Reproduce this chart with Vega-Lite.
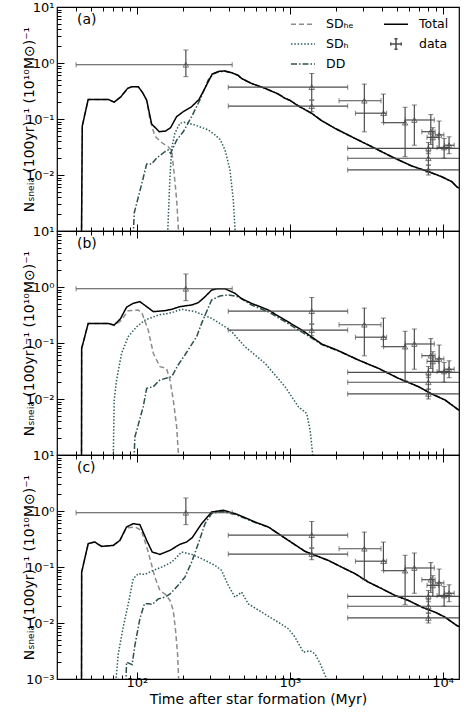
{
  "$schema": "https://vega.github.io/schema/vega-lite/v6.json",
  "background": "white",
  "padding": {"left": 21, "top": 0, "right": 0, "bottom": 0},
  "spacing": 0,
  "bounds": "flush",
  "config": {
    "font": "DejaVu Sans",
    "view": {"stroke": "black", "strokeWidth": 1.2},
    "axis": {"grid": false, "domain": false, "tickColor": "black", "tickWidth": 1, "labelFont": "DejaVu Sans", "labelFontSize": 13, "labelColor": "black", "titleFont": "DejaVu Sans", "titleFontSize": 14, "titleFontWeight": "normal", "titleColor": "black", "labelFlush": false, "labelOverlap": false, "labelPadding": 10, "titlePadding": -11},
    "axisBottom": {"titlePadding": 3, "labelPadding": 4},
    "legend": {"orient": "top-right", "offset": 10, "padding": 0, "columns": 2, "symbolType": "stroke", "symbolSize": 144, "symbolStrokeWidth": 1.5, "labelFontSize": 12.5, "labelFont": "DejaVu Sans", "labelColor": "black", "labelOffset": 16, "columnPadding": 27, "rowPadding": 4}
  },
  "datasets": {
    "obs": [
      {"t": 209, "tlo": 40, "thi": 420, "n": 0.93, "nlo": 0.57, "nhi": 1.71},
      {"t": 1392, "tlo": 396, "thi": 2393, "n": 0.37, "nlo": 0.22, "nhi": 0.65},
      {"t": 1392, "tlo": 396, "thi": 2393, "n": 0.17, "nlo": 0.135, "nhi": 0.215},
      {"t": 3076, "tlo": 2100, "thi": 3953, "n": 0.212, "nlo": 0.059, "nhi": 0.42},
      {"t": 4100, "tlo": 2690, "thi": 4300, "n": 0.127, "nlo": 0.086, "nhi": 0.279},
      {"t": 5683, "tlo": 4110, "thi": 5683, "n": 0.086, "nlo": 0.0212, "nhi": 0.162},
      {"t": 6532, "tlo": 5683, "thi": 8830, "n": 0.096, "nlo": 0.034, "nhi": 0.178},
      {"t": 8370, "tlo": 7310, "thi": 8930, "n": 0.0594, "nlo": 0.035, "nhi": 0.12},
      {"t": 8630, "tlo": 7900, "thi": 9400, "n": 0.047, "nlo": 0.03, "nhi": 0.07},
      {"t": 9490, "tlo": 8930, "thi": 10200, "n": 0.052, "nlo": 0.031, "nhi": 0.092},
      {"t": 10230, "tlo": 9200, "thi": 11000, "n": 0.031, "nlo": 0.02, "nhi": 0.045},
      {"t": 11020, "tlo": 10300, "thi": 11900, "n": 0.034, "nlo": 0.024, "nhi": 0.048},
      {"t": 8070, "tlo": 2393, "thi": 27600, "n": 0.030, "nlo": 0.024, "nhi": 0.038},
      {"t": 8070, "tlo": 2393, "thi": 27600, "n": 0.0199, "nlo": 0.015, "nhi": 0.026},
      {"t": 8070, "tlo": 2393, "thi": 27600, "n": 0.0123, "nlo": 0.01, "nhi": 0.015}
    ],
    "curves": [
      {"p":"a","s":"SD_He","t":43.4,"n":0.0008},{"p":"a","s":"SD_He","t":43.9,"n":0.075},{"p":"a","s":"SD_He","t":48,"n":0.224},{"p":"a","s":"SD_He","t":64.9,"n":0.224},{"p":"a","s":"SD_He","t":71,"n":0.2},{"p":"a","s":"SD_He","t":78.6,"n":0.25},{"p":"a","s":"SD_He","t":86.9,"n":0.353},{"p":"a","s":"SD_He","t":93,"n":0.378},{"p":"a","s":"SD_He","t":102,"n":0.378},{"p":"a","s":"SD_He","t":109,"n":0.295},{"p":"a","s":"SD_He","t":115.8,"n":0.215},{"p":"a","s":"SD_He","t":122,"n":0.095},{"p":"a","s":"SD_He","t":131,"n":0.05},{"p":"a","s":"SD_He","t":145,"n":0.038},{"p":"a","s":"SD_He","t":160,"n":0.032},{"p":"a","s":"SD_He","t":169,"n":0.027},{"p":"a","s":"SD_He","t":175,"n":0.011},{"p":"a","s":"SD_He","t":182,"n":0.0036},{"p":"a","s":"SD_He","t":188,"n":0.0008},
      {"p":"a","s":"SD_H","t":158.6,"n":0.0008},{"p":"a","s":"SD_H","t":164.5,"n":0.0093},{"p":"a","s":"SD_H","t":169,"n":0.03},{"p":"a","s":"SD_H","t":177,"n":0.0555},{"p":"a","s":"SD_H","t":191,"n":0.084},{"p":"a","s":"SD_H","t":206,"n":0.087},{"p":"a","s":"SD_H","t":240,"n":0.078},{"p":"a","s":"SD_H","t":293,"n":0.064},{"p":"a","s":"SD_H","t":324,"n":0.052},{"p":"a","s":"SD_H","t":350,"n":0.043},{"p":"a","s":"SD_H","t":377,"n":0.028},{"p":"a","s":"SD_H","t":406,"n":0.0125},{"p":"a","s":"SD_H","t":427,"n":0.0036},{"p":"a","s":"SD_H","t":441,"n":0.0008},
      {"p":"a","s":"DD","t":94.6,"n":0.0008},{"p":"a","s":"DD","t":96,"n":0.0021},{"p":"a","s":"DD","t":107,"n":0.0066},{"p":"a","s":"DD","t":115.8,"n":0.0157},{"p":"a","s":"DD","t":124.8,"n":0.0157},{"p":"a","s":"DD","t":134.5,"n":0.02},{"p":"a","s":"DD","t":152,"n":0.026},{"p":"a","s":"DD","t":160,"n":0.028},{"p":"a","s":"DD","t":166,"n":0.0244},{"p":"a","s":"DD","t":182,"n":0.042},{"p":"a","s":"DD","t":201,"n":0.059},{"p":"a","s":"DD","t":228,"n":0.11},{"p":"a","s":"DD","t":258,"n":0.218},{"p":"a","s":"DD","t":293,"n":0.497},{"p":"a","s":"DD","t":316,"n":0.637},{"p":"a","s":"DD","t":344,"n":0.7},{"p":"a","s":"DD","t":377,"n":0.715},{"p":"a","s":"DD","t":417,"n":0.665},{"p":"a","s":"DD","t":460,"n":0.6},{"p":"a","s":"DD","t":484,"n":0.525},{"p":"a","s":"DD","t":563,"n":0.43},{"p":"a","s":"DD","t":689,"n":0.353},{"p":"a","s":"DD","t":842,"n":0.279},{"p":"a","s":"DD","t":931,"n":0.234},{"p":"a","s":"DD","t":1004,"n":0.215},{"p":"a","s":"DD","t":1138,"n":0.171},{"p":"a","s":"DD","t":1393,"n":0.126},{"p":"a","s":"DD","t":1619,"n":0.093},{"p":"a","s":"DD","t":1977,"n":0.068},{"p":"a","s":"DD","t":2545,"n":0.048},{"p":"a","s":"DD","t":3440,"n":0.032},{"p":"a","s":"DD","t":4640,"n":0.0212},{"p":"a","s":"DD","t":6280,"n":0.0145},{"p":"a","s":"DD","t":8070,"n":0.0115},{"p":"a","s":"DD","t":9880,"n":0.0093},{"p":"a","s":"DD","t":11490,"n":0.0076},{"p":"a","s":"DD","t":12500,"n":0.006},{"p":"a","s":"DD","t":13000,"n":0.0058},
      {"p":"a","s":"Total","t":43.4,"n":0.0008},{"p":"a","s":"Total","t":43.9,"n":0.075},{"p":"a","s":"Total","t":48,"n":0.224},{"p":"a","s":"Total","t":64.9,"n":0.224},{"p":"a","s":"Total","t":71,"n":0.2},{"p":"a","s":"Total","t":78.6,"n":0.25},{"p":"a","s":"Total","t":86.9,"n":0.353},{"p":"a","s":"Total","t":93,"n":0.378},{"p":"a","s":"Total","t":102,"n":0.378},{"p":"a","s":"Total","t":109,"n":0.295},{"p":"a","s":"Total","t":115.8,"n":0.218},{"p":"a","s":"Total","t":124.8,"n":0.0815},{"p":"a","s":"Total","t":140,"n":0.0594},{"p":"a","s":"Total","t":154,"n":0.061},{"p":"a","s":"Total","t":166,"n":0.07},{"p":"a","s":"Total","t":181.8,"n":0.11},{"p":"a","s":"Total","t":201,"n":0.135},{"p":"a","s":"Total","t":228,"n":0.166},{"p":"a","s":"Total","t":255,"n":0.224},{"p":"a","s":"Total","t":282,"n":0.378},{"p":"a","s":"Total","t":311,"n":0.637},{"p":"a","s":"Total","t":344,"n":0.71},{"p":"a","s":"Total","t":377,"n":0.72},{"p":"a","s":"Total","t":417,"n":0.67},{"p":"a","s":"Total","t":460,"n":0.6},{"p":"a","s":"Total","t":484,"n":0.53},{"p":"a","s":"Total","t":563,"n":0.43},{"p":"a","s":"Total","t":689,"n":0.353},{"p":"a","s":"Total","t":842,"n":0.279},{"p":"a","s":"Total","t":931,"n":0.234},{"p":"a","s":"Total","t":1004,"n":0.215},{"p":"a","s":"Total","t":1138,"n":0.171},{"p":"a","s":"Total","t":1393,"n":0.126},{"p":"a","s":"Total","t":1619,"n":0.093},{"p":"a","s":"Total","t":1977,"n":0.068},{"p":"a","s":"Total","t":2545,"n":0.048},{"p":"a","s":"Total","t":3440,"n":0.032},{"p":"a","s":"Total","t":4640,"n":0.0212},{"p":"a","s":"Total","t":6280,"n":0.0145},{"p":"a","s":"Total","t":8070,"n":0.0115},{"p":"a","s":"Total","t":9880,"n":0.0093},{"p":"a","s":"Total","t":11490,"n":0.0076},{"p":"a","s":"Total","t":12500,"n":0.006},{"p":"a","s":"Total","t":13000,"n":0.0058},

      {"p":"b","s":"SD_He","t":43.4,"n":0.0008},{"p":"b","s":"SD_He","t":43.5,"n":0.08},{"p":"b","s":"SD_He","t":48,"n":0.224},{"p":"b","s":"SD_He","t":64.9,"n":0.224},{"p":"b","s":"SD_He","t":71,"n":0.205},{"p":"b","s":"SD_He","t":78.6,"n":0.25},{"p":"b","s":"SD_He","t":87.7,"n":0.378},{"p":"b","s":"SD_He","t":102,"n":0.388},{"p":"b","s":"SD_He","t":108,"n":0.339},{"p":"b","s":"SD_He","t":118.6,"n":0.17},{"p":"b","s":"SD_He","t":128,"n":0.0655},{"p":"b","s":"SD_He","t":141.5,"n":0.0377},{"p":"b","s":"SD_He","t":156,"n":0.0353},{"p":"b","s":"SD_He","t":164.5,"n":0.0219},{"p":"b","s":"SD_He","t":173,"n":0.0096},{"p":"b","s":"SD_He","t":182,"n":0.0032},{"p":"b","s":"SD_He","t":188,"n":0.0008},
      {"p":"b","s":"SD_H","t":70,"n":0.0008},{"p":"b","s":"SD_H","t":71,"n":0.0096},{"p":"b","s":"SD_H","t":73.6,"n":0.0219},{"p":"b","s":"SD_H","t":79.4,"n":0.0655},{"p":"b","s":"SD_H","t":87.7,"n":0.13},{"p":"b","s":"SD_H","t":99.5,"n":0.195},{"p":"b","s":"SD_H","t":113,"n":0.257},{"p":"b","s":"SD_H","t":138,"n":0.316},{"p":"b","s":"SD_H","t":169,"n":0.348},{"p":"b","s":"SD_H","t":196,"n":0.4},{"p":"b","s":"SD_H","t":240,"n":0.363},{"p":"b","s":"SD_H","t":308,"n":0.276},{"p":"b","s":"SD_H","t":377,"n":0.195},{"p":"b","s":"SD_H","t":417,"n":0.159},{"p":"b","s":"SD_H","t":509,"n":0.086},{"p":"b","s":"SD_H","t":593,"n":0.061},{"p":"b","s":"SD_H","t":689,"n":0.0434},{"p":"b","s":"SD_H","t":931,"n":0.0166},{"p":"b","s":"SD_H","t":1138,"n":0.0073},{"p":"b","s":"SD_H","t":1291,"n":0.0055},{"p":"b","s":"SD_H","t":1358,"n":0.0028},{"p":"b","s":"SD_H","t":1426,"n":0.0008},
      {"p":"b","s":"DD","t":95.6,"n":0.0008},{"p":"b","s":"DD","t":97,"n":0.0021},{"p":"b","s":"DD","t":110,"n":0.0073},{"p":"b","s":"DD","t":115.8,"n":0.0155},{"p":"b","s":"DD","t":128,"n":0.0166},{"p":"b","s":"DD","t":141.5,"n":0.0219},{"p":"b","s":"DD","t":169,"n":0.025},{"p":"b","s":"DD","t":186,"n":0.0405},{"p":"b","s":"DD","t":206,"n":0.061},{"p":"b","s":"DD","t":246,"n":0.13},{"p":"b","s":"DD","t":265,"n":0.224},{"p":"b","s":"DD","t":308,"n":0.586},{"p":"b","s":"DD","t":349,"n":0.69},{"p":"b","s":"DD","t":396,"n":0.72},{"p":"b","s":"DD","t":460,"n":0.67},{"p":"b","s":"DD","t":563,"n":0.477},{"p":"b","s":"DD","t":724,"n":0.36},{"p":"b","s":"DD","t":931,"n":0.24},{"p":"b","s":"DD","t":1291,"n":0.139},{"p":"b","s":"DD","t":1619,"n":0.094},{"p":"b","s":"DD","t":2080,"n":0.072},{"p":"b","s":"DD","t":2812,"n":0.0497},{"p":"b","s":"DD","t":3800,"n":0.0353},{"p":"b","s":"DD","t":5140,"n":0.0234},{"p":"b","s":"DD","t":6950,"n":0.0166},{"p":"b","s":"DD","t":8490,"n":0.0123},{"p":"b","s":"DD","t":10380,"n":0.0096},{"p":"b","s":"DD","t":12500,"n":0.0066},{"p":"b","s":"DD","t":13000,"n":0.0062},
      {"p":"b","s":"Total","t":43.4,"n":0.0008},{"p":"b","s":"Total","t":43.5,"n":0.08},{"p":"b","s":"Total","t":48,"n":0.224},{"p":"b","s":"Total","t":64.9,"n":0.224},{"p":"b","s":"Total","t":71,"n":0.21},{"p":"b","s":"Total","t":78,"n":0.27},{"p":"b","s":"Total","t":85.5,"n":0.434},{"p":"b","s":"Total","t":94.6,"n":0.51},{"p":"b","s":"Total","t":104.6,"n":0.547},{"p":"b","s":"Total","t":115.8,"n":0.446},{"p":"b","s":"Total","t":128,"n":0.363},{"p":"b","s":"Total","t":152.5,"n":0.378},{"p":"b","s":"Total","t":169,"n":0.4},{"p":"b","s":"Total","t":191,"n":0.446},{"p":"b","s":"Total","t":228,"n":0.477},{"p":"b","s":"Total","t":252,"n":0.525},{"p":"b","s":"Total","t":279,"n":0.67},{"p":"b","s":"Total","t":308,"n":0.88},{"p":"b","s":"Total","t":332,"n":0.93},{"p":"b","s":"Total","t":377,"n":0.93},{"p":"b","s":"Total","t":417,"n":0.82},{"p":"b","s":"Total","t":438,"n":0.77},{"p":"b","s":"Total","t":484,"n":0.62},{"p":"b","s":"Total","t":563,"n":0.51},{"p":"b","s":"Total","t":724,"n":0.388},{"p":"b","s":"Total","t":931,"n":0.257},{"p":"b","s":"Total","t":1197,"n":0.171},{"p":"b","s":"Total","t":1619,"n":0.096},{"p":"b","s":"Total","t":2080,"n":0.073},{"p":"b","s":"Total","t":2812,"n":0.0497},{"p":"b","s":"Total","t":3800,"n":0.0353},{"p":"b","s":"Total","t":5140,"n":0.0234},{"p":"b","s":"Total","t":6950,"n":0.0166},{"p":"b","s":"Total","t":8490,"n":0.0123},{"p":"b","s":"Total","t":10380,"n":0.0096},{"p":"b","s":"Total","t":12500,"n":0.0066},{"p":"b","s":"Total","t":13000,"n":0.0062},

      {"p":"c","s":"SD_He","t":43.4,"n":0.0008},{"p":"c","s":"SD_He","t":43.5,"n":0.081},{"p":"c","s":"SD_He","t":48,"n":0.261},{"p":"c","s":"SD_He","t":53,"n":0.279},{"p":"c","s":"SD_He","t":58.7,"n":0.233},{"p":"c","s":"SD_He","t":70,"n":0.243},{"p":"c","s":"SD_He","t":77.4,"n":0.299},{"p":"c","s":"SD_He","t":85.5,"n":0.5},{"p":"c","s":"SD_He","t":97,"n":0.518},{"p":"c","s":"SD_He","t":107,"n":0.452},{"p":"c","s":"SD_He","t":118.6,"n":0.185},{"p":"c","s":"SD_He","t":131,"n":0.066},{"p":"c","s":"SD_He","t":141.5,"n":0.038},{"p":"c","s":"SD_He","t":152.5,"n":0.033},{"p":"c","s":"SD_He","t":164.5,"n":0.0253},{"p":"c","s":"SD_He","t":173,"n":0.0167},{"p":"c","s":"SD_He","t":179,"n":0.0073},{"p":"c","s":"SD_He","t":184.5,"n":0.0028},{"p":"c","s":"SD_He","t":188,"n":0.0008},
      {"p":"c","s":"SD_H","t":72.5,"n":0.0008},{"p":"c","s":"SD_H","t":75.5,"n":0.0028},{"p":"c","s":"SD_H","t":81.3,"n":0.0084},{"p":"c","s":"SD_H","t":88.7,"n":0.0253},{"p":"c","s":"SD_H","t":94.6,"n":0.0618},{"p":"c","s":"SD_H","t":102,"n":0.076},{"p":"c","s":"SD_H","t":113,"n":0.0738},{"p":"c","s":"SD_H","t":124.8,"n":0.0845},{"p":"c","s":"SD_H","t":145,"n":0.0995},{"p":"c","s":"SD_H","t":169,"n":0.122},{"p":"c","s":"SD_H","t":196,"n":0.185},{"p":"c","s":"SD_H","t":228,"n":0.168},{"p":"c","s":"SD_H","t":265,"n":0.141},{"p":"c","s":"SD_H","t":324,"n":0.107},{"p":"c","s":"SD_H","t":358,"n":0.087},{"p":"c","s":"SD_H","t":396,"n":0.047},{"p":"c","s":"SD_H","t":438,"n":0.029},{"p":"c","s":"SD_H","t":484,"n":0.0356},{"p":"c","s":"SD_H","t":535,"n":0.022},{"p":"c","s":"SD_H","t":655,"n":0.0156},{"p":"c","s":"SD_H","t":842,"n":0.0103},{"p":"c","s":"SD_H","t":979,"n":0.0079},{"p":"c","s":"SD_H","t":1082,"n":0.0056},{"p":"c","s":"SD_H","t":1227,"n":0.003},{"p":"c","s":"SD_H","t":1358,"n":0.0032},{"p":"c","s":"SD_H","t":1464,"n":0.0028},{"p":"c","s":"SD_H","t":1578,"n":0.0019},{"p":"c","s":"SD_H","t":1744,"n":0.001},{"p":"c","s":"SD_H","t":1790,"n":0.0008},
      {"p":"c","s":"DD","t":84.7,"n":0.0008},{"p":"c","s":"DD","t":85.5,"n":0.002},{"p":"c","s":"DD","t":93,"n":0.0018},{"p":"c","s":"DD","t":97,"n":0.004},{"p":"c","s":"DD","t":104.6,"n":0.012},{"p":"c","s":"DD","t":112,"n":0.022},{"p":"c","s":"DD","t":120,"n":0.022},{"p":"c","s":"DD","t":126,"n":0.0214},{"p":"c","s":"DD","t":138,"n":0.027},{"p":"c","s":"DD","t":152.5,"n":0.029},{"p":"c","s":"DD","t":165,"n":0.033},{"p":"c","s":"DD","t":186,"n":0.047},{"p":"c","s":"DD","t":206,"n":0.066},{"p":"c","s":"DD","t":228,"n":0.122},{"p":"c","s":"DD","t":252,"n":0.261},{"p":"c","s":"DD","t":279,"n":0.594},{"p":"c","s":"DD","t":308,"n":0.9},{"p":"c","s":"DD","t":358,"n":0.975},{"p":"c","s":"DD","t":396,"n":0.93},{"p":"c","s":"DD","t":438,"n":0.87},{"p":"c","s":"DD","t":509,"n":0.74},{"p":"c","s":"DD","t":593,"n":0.62},{"p":"c","s":"DD","t":724,"n":0.518},{"p":"c","s":"DD","t":979,"n":0.299},{"p":"c","s":"DD","t":1259,"n":0.19},{"p":"c","s":"DD","t":1787,"n":0.131},{"p":"c","s":"DD","t":2186,"n":0.0995},{"p":"c","s":"DD","t":2673,"n":0.076},{"p":"c","s":"DD","t":3270,"n":0.0537},{"p":"c","s":"DD","t":4000,"n":0.041},{"p":"c","s":"DD","t":4890,"n":0.031},{"p":"c","s":"DD","t":5970,"n":0.0253},{"p":"c","s":"DD","t":7310,"n":0.0192},{"p":"c","s":"DD","t":8930,"n":0.0156},{"p":"c","s":"DD","t":10380,"n":0.0127},{"p":"c","s":"DD","t":12390,"n":0.009},{"p":"c","s":"DD","t":13000,"n":0.0085},
      {"p":"c","s":"Total","t":43.4,"n":0.0008},{"p":"c","s":"Total","t":43.5,"n":0.081},{"p":"c","s":"Total","t":48,"n":0.261},{"p":"c","s":"Total","t":53,"n":0.279},{"p":"c","s":"Total","t":58.7,"n":0.233},{"p":"c","s":"Total","t":70,"n":0.243},{"p":"c","s":"Total","t":77.4,"n":0.299},{"p":"c","s":"Total","t":85.5,"n":0.518},{"p":"c","s":"Total","t":94.6,"n":0.594},{"p":"c","s":"Total","t":104.6,"n":0.57},{"p":"c","s":"Total","t":115.8,"n":0.299},{"p":"c","s":"Total","t":126,"n":0.185},{"p":"c","s":"Total","t":141.5,"n":0.168},{"p":"c","s":"Total","t":164.5,"n":0.198},{"p":"c","s":"Total","t":191,"n":0.254},{"p":"c","s":"Total","t":211,"n":0.279},{"p":"c","s":"Total","t":230,"n":0.334},{"p":"c","s":"Total","t":265,"n":0.594},{"p":"c","s":"Total","t":308,"n":0.96},{"p":"c","s":"Total","t":367,"n":1.03},{"p":"c","s":"Total","t":438,"n":0.9},{"p":"c","s":"Total","t":509,"n":0.762},{"p":"c","s":"Total","t":593,"n":0.636},{"p":"c","s":"Total","t":724,"n":0.518},{"p":"c","s":"Total","t":979,"n":0.299},{"p":"c","s":"Total","t":1259,"n":0.19},{"p":"c","s":"Total","t":1787,"n":0.131},{"p":"c","s":"Total","t":2186,"n":0.0995},{"p":"c","s":"Total","t":2673,"n":0.076},{"p":"c","s":"Total","t":3270,"n":0.0537},{"p":"c","s":"Total","t":4000,"n":0.041},{"p":"c","s":"Total","t":4890,"n":0.031},{"p":"c","s":"Total","t":5970,"n":0.0253},{"p":"c","s":"Total","t":7310,"n":0.0192},{"p":"c","s":"Total","t":8930,"n":0.0156},{"p":"c","s":"Total","t":10380,"n":0.0127},{"p":"c","s":"Total","t":12390,"n":0.009},{"p":"c","s":"Total","t":13000,"n":0.0085}
    ]
  },
  "resolve": {"scale": {"color": "independent", "strokeDash": "independent"}, "legend": {"color": "independent", "strokeDash": "independent"}},
  "vconcat": [
    {
      "width": 402, "height": 224,
      "resolve": {"axis": {"x": "independent", "y": "independent"}},
      "layer": [
        {"data": {"name": "curves"}, "transform": [{"filter": "datum.p == 'a'"}],
         "mark": {"type": "line", "clip": true, "strokeWidth": 1.5},
         "encoding": {
           "x": {"field": "t", "type": "quantitative", "scale": {"type": "log", "domain": [30, 12800], "nice": false}, "axis": null},
           "y": {"field": "n", "type": "quantitative", "scale": {"type": "log", "domain": [0.001, 10], "nice": false}, "axis": null},
           "color": {"field": "s", "type": "nominal", "scale": {"domain": ["SD_He", "SD_H", "DD", "Total", "data"], "range": ["#8c8c8c", "#2f5c5c", "#2f4f4f", "#000000", "#4d4d4d"]},
             "legend": {"title": null, "labelExpr": "datum.label == 'SD_He' ? 'SDₕₑ' : datum.label == 'SD_H' ? 'SDₕ' : datum.label", "encode": {"symbols": {"update": {"shape": {"signal": "datum.value == 'data' ? 'M-1,0H1M0,-1V1M-1,-0.3V0.3M1,-0.3V0.3M-0.3,-1H0.3M-0.3,1H0.3' : 'M-2,0H2'"}, "size": {"signal": "datum.value == 'data' ? 110 : 144"}}}}}},
           "strokeDash": {"field": "s", "type": "nominal", "scale": {"domain": ["SD_He", "SD_H", "DD", "Total", "data"], "range": [[5, 3], [1.5, 1.8], [6, 2, 1.5, 2], [1, 0], [1, 0]]},
             "legend": {"title": null, "labelExpr": "datum.label == 'SD_He' ? 'SDₕₑ' : datum.label == 'SD_H' ? 'SDₕ' : datum.label", "encode": {"symbols": {"update": {"shape": {"signal": "datum.value == 'data' ? 'M-1,0H1M0,-1V1M-1,-0.3V0.3M1,-0.3V0.3M-0.3,-1H0.3M-0.3,1H0.3' : 'M-2,0H2'"}, "size": {"signal": "datum.value == 'data' ? 110 : 144"}}}}}}
         }},
        {"data": {"name": "obs"}, "mark": {"type": "rule", "clip": true, "color": "#4d4d4d", "strokeWidth": 1.2},
         "encoding": {
           "x": {"field": "tlo", "type": "quantitative", "scale": {"type": "log", "domain": [30, 12800], "nice": false}, "axis": {"orient": "bottom", "values": [100, 1000, 10000], "tickSize": -7, "labels": false, "title": null}},
           "x2": {"field": "thi"},
           "y": {"field": "n", "type": "quantitative", "scale": {"type": "log", "domain": [0.001, 10], "nice": false}, "axis": {"orient": "left", "values": [0.001, 0.01, 0.1, 1, 10], "tickSize": -7, "labelExpr": "datum.value > 5 ? '10¹' : datum.value > 0.5 ? '10⁰' : datum.value > 0.05 ? '10⁻¹' : datum.value > 0.005 ? '10⁻²' : ''", "title": "Nₛₙₑᵢₐ (100yr)⁻¹ (10¹⁰M⊙)⁻¹"}}
         }},
        {"data": {"name": "obs"}, "mark": {"type": "rule", "clip": true, "color": "#4d4d4d", "strokeWidth": 1.2},
         "encoding": {
           "x": {"field": "t", "type": "quantitative", "scale": {"type": "log", "domain": [30, 12800], "nice": false}, "axis": {"orient": "bottom", "values": [40, 50, 60, 70, 80, 90, 200, 300, 400, 500, 600, 700, 800, 900, 2000, 3000, 4000, 5000, 6000, 7000, 8000, 9000], "tickSize": -4, "labels": false, "title": null}},
           "y": {"field": "nlo", "type": "quantitative", "scale": {"type": "log", "domain": [0.001, 10], "nice": false}, "axis": {"orient": "left", "values": [0.002, 0.003, 0.004, 0.005, 0.006, 0.007, 0.008, 0.009, 0.02, 0.03, 0.04, 0.05, 0.06, 0.07, 0.08, 0.09, 0.2, 0.3, 0.4, 0.5, 0.6, 0.7, 0.8, 0.9, 2, 3, 4, 5, 6, 7, 8, 9], "tickSize": -4, "labels": false, "title": null}},
           "y2": {"field": "nhi"}
         }},
        {"data": {"name": "obs"}, "mark": {"type": "tick", "orient": "vertical", "clip": true, "color": "#4d4d4d", "size": 5, "thickness": 1},
         "encoding": {
           "x": {"field": "tlo", "type": "quantitative", "scale": {"type": "log", "domain": [30, 12800], "nice": false}, "axis": {"orient": "top", "values": [100, 1000, 10000], "tickSize": -7, "labels": false, "title": null}},
           "y": {"field": "n", "type": "quantitative", "scale": {"type": "log", "domain": [0.001, 10], "nice": false}, "axis": null}
         }},
        {"data": {"name": "obs"}, "mark": {"type": "tick", "orient": "vertical", "clip": true, "color": "#4d4d4d", "size": 5, "thickness": 1},
         "encoding": {
           "x": {"field": "thi", "type": "quantitative", "scale": {"type": "log", "domain": [30, 12800], "nice": false}, "axis": {"orient": "top", "values": [40, 50, 60, 70, 80, 90, 200, 300, 400, 500, 600, 700, 800, 900, 2000, 3000, 4000, 5000, 6000, 7000, 8000, 9000], "tickSize": -4, "labels": false, "title": null}},
           "y": {"field": "n", "type": "quantitative", "scale": {"type": "log", "domain": [0.001, 10], "nice": false}, "axis": null}
         }},
        {"data": {"name": "obs"}, "mark": {"type": "tick", "orient": "horizontal", "clip": true, "color": "#4d4d4d", "size": 5, "thickness": 1},
         "encoding": {
           "x": {"field": "t", "type": "quantitative", "scale": {"type": "log", "domain": [30, 12800], "nice": false}, "axis": null},
           "y": {"field": "nlo", "type": "quantitative", "scale": {"type": "log", "domain": [0.001, 10], "nice": false}, "axis": null}
         }},
        {"data": {"name": "obs"}, "mark": {"type": "tick", "orient": "horizontal", "clip": true, "color": "#4d4d4d", "size": 5, "thickness": 1},
         "encoding": {
           "x": {"field": "t", "type": "quantitative", "scale": {"type": "log", "domain": [30, 12800], "nice": false}, "axis": null},
           "y": {"field": "nhi", "type": "quantitative", "scale": {"type": "log", "domain": [0.001, 10], "nice": false}, "axis": null}
         }},
        {"data": {"name": "obs"}, "mark": {"type": "point", "shape": "triangle-up", "filled": false, "clip": true, "color": "#444444", "size": 30, "strokeWidth": 1},
         "encoding": {
           "x": {"field": "t", "type": "quantitative", "scale": {"type": "log", "domain": [30, 12800], "nice": false}, "axis": null},
           "y": {"field": "n", "type": "quantitative", "scale": {"type": "log", "domain": [0.001, 10], "nice": false}, "axis": null}
         }},
        {"data": {"values": [{}]}, "mark": {"type": "text", "align": "left", "baseline": "middle", "fontSize": 14, "font": "DejaVu Sans", "color": "black"},
         "encoding": {
           "x": {"datum": 40.5, "type": "quantitative", "scale": {"type": "log", "domain": [30, 12800], "nice": false}, "axis": null},
           "y": {"datum": 5.9, "type": "quantitative", "scale": {"type": "log", "domain": [0.001, 10], "nice": false}, "axis": null},
           "text": {"value": "(a)"}
         }}
      ]
    },
    {
      "width": 402, "height": 224,
      "resolve": {"axis": {"x": "independent", "y": "independent"}},
      "layer": [
        {"data": {"name": "curves"}, "transform": [{"filter": "datum.p == 'b'"}],
         "mark": {"type": "line", "clip": true, "strokeWidth": 1.5},
         "encoding": {
           "x": {"field": "t", "type": "quantitative", "scale": {"type": "log", "domain": [30, 12800], "nice": false}, "axis": null},
           "y": {"field": "n", "type": "quantitative", "scale": {"type": "log", "domain": [0.001, 10], "nice": false}, "axis": null},
           "color": {"field": "s", "type": "nominal", "scale": {"domain": ["SD_He", "SD_H", "DD", "Total", "data"], "range": ["#8c8c8c", "#2f5c5c", "#2f4f4f", "#000000", "#4d4d4d"]}, "legend": null},
           "strokeDash": {"field": "s", "type": "nominal", "scale": {"domain": ["SD_He", "SD_H", "DD", "Total", "data"], "range": [[5, 3], [1.5, 1.8], [6, 2, 1.5, 2], [1, 0], [1, 0]]}, "legend": null}
         }},
        {"data": {"name": "obs"}, "mark": {"type": "rule", "clip": true, "color": "#4d4d4d", "strokeWidth": 1.2},
         "encoding": {
           "x": {"field": "tlo", "type": "quantitative", "scale": {"type": "log", "domain": [30, 12800], "nice": false}, "axis": {"orient": "bottom", "values": [100, 1000, 10000], "tickSize": -7, "labels": false, "title": null}},
           "x2": {"field": "thi"},
           "y": {"field": "n", "type": "quantitative", "scale": {"type": "log", "domain": [0.001, 10], "nice": false}, "axis": {"orient": "left", "values": [0.001, 0.01, 0.1, 1, 10], "tickSize": -7, "labelExpr": "datum.value > 5 ? '10¹' : datum.value > 0.5 ? '10⁰' : datum.value > 0.05 ? '10⁻¹' : datum.value > 0.005 ? '10⁻²' : ''", "title": "Nₛₙₑᵢₐ (100yr)⁻¹ (10¹⁰M⊙)⁻¹"}}
         }},
        {"data": {"name": "obs"}, "mark": {"type": "rule", "clip": true, "color": "#4d4d4d", "strokeWidth": 1.2},
         "encoding": {
           "x": {"field": "t", "type": "quantitative", "scale": {"type": "log", "domain": [30, 12800], "nice": false}, "axis": {"orient": "bottom", "values": [40, 50, 60, 70, 80, 90, 200, 300, 400, 500, 600, 700, 800, 900, 2000, 3000, 4000, 5000, 6000, 7000, 8000, 9000], "tickSize": -4, "labels": false, "title": null}},
           "y": {"field": "nlo", "type": "quantitative", "scale": {"type": "log", "domain": [0.001, 10], "nice": false}, "axis": {"orient": "left", "values": [0.002, 0.003, 0.004, 0.005, 0.006, 0.007, 0.008, 0.009, 0.02, 0.03, 0.04, 0.05, 0.06, 0.07, 0.08, 0.09, 0.2, 0.3, 0.4, 0.5, 0.6, 0.7, 0.8, 0.9, 2, 3, 4, 5, 6, 7, 8, 9], "tickSize": -4, "labels": false, "title": null}},
           "y2": {"field": "nhi"}
         }},
        {"data": {"name": "obs"}, "mark": {"type": "tick", "orient": "vertical", "clip": true, "color": "#4d4d4d", "size": 5, "thickness": 1},
         "encoding": {
           "x": {"field": "tlo", "type": "quantitative", "scale": {"type": "log", "domain": [30, 12800], "nice": false}, "axis": {"orient": "top", "values": [100, 1000, 10000], "tickSize": -7, "labels": false, "title": null}},
           "y": {"field": "n", "type": "quantitative", "scale": {"type": "log", "domain": [0.001, 10], "nice": false}, "axis": null}
         }},
        {"data": {"name": "obs"}, "mark": {"type": "tick", "orient": "vertical", "clip": true, "color": "#4d4d4d", "size": 5, "thickness": 1},
         "encoding": {
           "x": {"field": "thi", "type": "quantitative", "scale": {"type": "log", "domain": [30, 12800], "nice": false}, "axis": {"orient": "top", "values": [40, 50, 60, 70, 80, 90, 200, 300, 400, 500, 600, 700, 800, 900, 2000, 3000, 4000, 5000, 6000, 7000, 8000, 9000], "tickSize": -4, "labels": false, "title": null}},
           "y": {"field": "n", "type": "quantitative", "scale": {"type": "log", "domain": [0.001, 10], "nice": false}, "axis": null}
         }},
        {"data": {"name": "obs"}, "mark": {"type": "tick", "orient": "horizontal", "clip": true, "color": "#4d4d4d", "size": 5, "thickness": 1},
         "encoding": {
           "x": {"field": "t", "type": "quantitative", "scale": {"type": "log", "domain": [30, 12800], "nice": false}, "axis": null},
           "y": {"field": "nlo", "type": "quantitative", "scale": {"type": "log", "domain": [0.001, 10], "nice": false}, "axis": null}
         }},
        {"data": {"name": "obs"}, "mark": {"type": "tick", "orient": "horizontal", "clip": true, "color": "#4d4d4d", "size": 5, "thickness": 1},
         "encoding": {
           "x": {"field": "t", "type": "quantitative", "scale": {"type": "log", "domain": [30, 12800], "nice": false}, "axis": null},
           "y": {"field": "nhi", "type": "quantitative", "scale": {"type": "log", "domain": [0.001, 10], "nice": false}, "axis": null}
         }},
        {"data": {"name": "obs"}, "mark": {"type": "point", "shape": "triangle-up", "filled": false, "clip": true, "color": "#444444", "size": 30, "strokeWidth": 1},
         "encoding": {
           "x": {"field": "t", "type": "quantitative", "scale": {"type": "log", "domain": [30, 12800], "nice": false}, "axis": null},
           "y": {"field": "n", "type": "quantitative", "scale": {"type": "log", "domain": [0.001, 10], "nice": false}, "axis": null}
         }},
        {"data": {"values": [{}]}, "mark": {"type": "text", "align": "left", "baseline": "middle", "fontSize": 14, "font": "DejaVu Sans", "color": "black"},
         "encoding": {
           "x": {"datum": 40.5, "type": "quantitative", "scale": {"type": "log", "domain": [30, 12800], "nice": false}, "axis": null},
           "y": {"datum": 5.9, "type": "quantitative", "scale": {"type": "log", "domain": [0.001, 10], "nice": false}, "axis": null},
           "text": {"value": "(b)"}
         }}
      ]
    },
    {
      "width": 402, "height": 224,
      "resolve": {"axis": {"x": "independent", "y": "independent"}},
      "layer": [
        {"data": {"name": "curves"}, "transform": [{"filter": "datum.p == 'c'"}],
         "mark": {"type": "line", "clip": true, "strokeWidth": 1.5},
         "encoding": {
           "x": {"field": "t", "type": "quantitative", "scale": {"type": "log", "domain": [30, 12800], "nice": false}, "axis": null},
           "y": {"field": "n", "type": "quantitative", "scale": {"type": "log", "domain": [0.001, 10], "nice": false}, "axis": null},
           "color": {"field": "s", "type": "nominal", "scale": {"domain": ["SD_He", "SD_H", "DD", "Total", "data"], "range": ["#8c8c8c", "#2f5c5c", "#2f4f4f", "#000000", "#4d4d4d"]}, "legend": null},
           "strokeDash": {"field": "s", "type": "nominal", "scale": {"domain": ["SD_He", "SD_H", "DD", "Total", "data"], "range": [[5, 3], [1.5, 1.8], [6, 2, 1.5, 2], [1, 0], [1, 0]]}, "legend": null}
         }},
        {"data": {"name": "obs"}, "mark": {"type": "rule", "clip": true, "color": "#4d4d4d", "strokeWidth": 1.2},
         "encoding": {
           "x": {"field": "tlo", "type": "quantitative", "scale": {"type": "log", "domain": [30, 12800], "nice": false}, "axis": {"orient": "bottom", "values": [100, 1000, 10000], "tickSize": -7, "labelExpr": "datum.value > 5000 ? '10⁴' : datum.value > 500 ? '10³' : '10²'", "title": "Time  after star formation (Myr)"}},
           "x2": {"field": "thi"},
           "y": {"field": "n", "type": "quantitative", "scale": {"type": "log", "domain": [0.001, 10], "nice": false}, "axis": {"orient": "left", "values": [0.001, 0.01, 0.1, 1, 10], "tickSize": -7, "labelExpr": "datum.value > 5 ? '10¹' : datum.value > 0.5 ? '10⁰' : datum.value > 0.05 ? '10⁻¹' : datum.value > 0.005 ? '10⁻²' : '10⁻³'", "title": "Nₛₙₑᵢₐ (100yr)⁻¹ (10¹⁰M⊙)⁻¹"}}
         }},
        {"data": {"name": "obs"}, "mark": {"type": "rule", "clip": true, "color": "#4d4d4d", "strokeWidth": 1.2},
         "encoding": {
           "x": {"field": "t", "type": "quantitative", "scale": {"type": "log", "domain": [30, 12800], "nice": false}, "axis": {"orient": "bottom", "values": [40, 50, 60, 70, 80, 90, 200, 300, 400, 500, 600, 700, 800, 900, 2000, 3000, 4000, 5000, 6000, 7000, 8000, 9000], "tickSize": -4, "labels": false, "title": null}},
           "y": {"field": "nlo", "type": "quantitative", "scale": {"type": "log", "domain": [0.001, 10], "nice": false}, "axis": {"orient": "left", "values": [0.002, 0.003, 0.004, 0.005, 0.006, 0.007, 0.008, 0.009, 0.02, 0.03, 0.04, 0.05, 0.06, 0.07, 0.08, 0.09, 0.2, 0.3, 0.4, 0.5, 0.6, 0.7, 0.8, 0.9, 2, 3, 4, 5, 6, 7, 8, 9], "tickSize": -4, "labels": false, "title": null}},
           "y2": {"field": "nhi"}
         }},
        {"data": {"name": "obs"}, "mark": {"type": "tick", "orient": "vertical", "clip": true, "color": "#4d4d4d", "size": 5, "thickness": 1},
         "encoding": {
           "x": {"field": "tlo", "type": "quantitative", "scale": {"type": "log", "domain": [30, 12800], "nice": false}, "axis": {"orient": "top", "values": [100, 1000, 10000], "tickSize": -7, "labels": false, "title": null}},
           "y": {"field": "n", "type": "quantitative", "scale": {"type": "log", "domain": [0.001, 10], "nice": false}, "axis": null}
         }},
        {"data": {"name": "obs"}, "mark": {"type": "tick", "orient": "vertical", "clip": true, "color": "#4d4d4d", "size": 5, "thickness": 1},
         "encoding": {
           "x": {"field": "thi", "type": "quantitative", "scale": {"type": "log", "domain": [30, 12800], "nice": false}, "axis": {"orient": "top", "values": [40, 50, 60, 70, 80, 90, 200, 300, 400, 500, 600, 700, 800, 900, 2000, 3000, 4000, 5000, 6000, 7000, 8000, 9000], "tickSize": -4, "labels": false, "title": null}},
           "y": {"field": "n", "type": "quantitative", "scale": {"type": "log", "domain": [0.001, 10], "nice": false}, "axis": null}
         }},
        {"data": {"name": "obs"}, "mark": {"type": "tick", "orient": "horizontal", "clip": true, "color": "#4d4d4d", "size": 5, "thickness": 1},
         "encoding": {
           "x": {"field": "t", "type": "quantitative", "scale": {"type": "log", "domain": [30, 12800], "nice": false}, "axis": null},
           "y": {"field": "nlo", "type": "quantitative", "scale": {"type": "log", "domain": [0.001, 10], "nice": false}, "axis": null}
         }},
        {"data": {"name": "obs"}, "mark": {"type": "tick", "orient": "horizontal", "clip": true, "color": "#4d4d4d", "size": 5, "thickness": 1},
         "encoding": {
           "x": {"field": "t", "type": "quantitative", "scale": {"type": "log", "domain": [30, 12800], "nice": false}, "axis": null},
           "y": {"field": "nhi", "type": "quantitative", "scale": {"type": "log", "domain": [0.001, 10], "nice": false}, "axis": null}
         }},
        {"data": {"name": "obs"}, "mark": {"type": "point", "shape": "triangle-up", "filled": false, "clip": true, "color": "#444444", "size": 30, "strokeWidth": 1},
         "encoding": {
           "x": {"field": "t", "type": "quantitative", "scale": {"type": "log", "domain": [30, 12800], "nice": false}, "axis": null},
           "y": {"field": "n", "type": "quantitative", "scale": {"type": "log", "domain": [0.001, 10], "nice": false}, "axis": null}
         }},
        {"data": {"values": [{}]}, "mark": {"type": "text", "align": "left", "baseline": "middle", "fontSize": 14, "font": "DejaVu Sans", "color": "black"},
         "encoding": {
           "x": {"datum": 40.5, "type": "quantitative", "scale": {"type": "log", "domain": [30, 12800], "nice": false}, "axis": null},
           "y": {"datum": 5.9, "type": "quantitative", "scale": {"type": "log", "domain": [0.001, 10], "nice": false}, "axis": null},
           "text": {"value": "(c)"}
         }}
      ]
    }
  ]
}
